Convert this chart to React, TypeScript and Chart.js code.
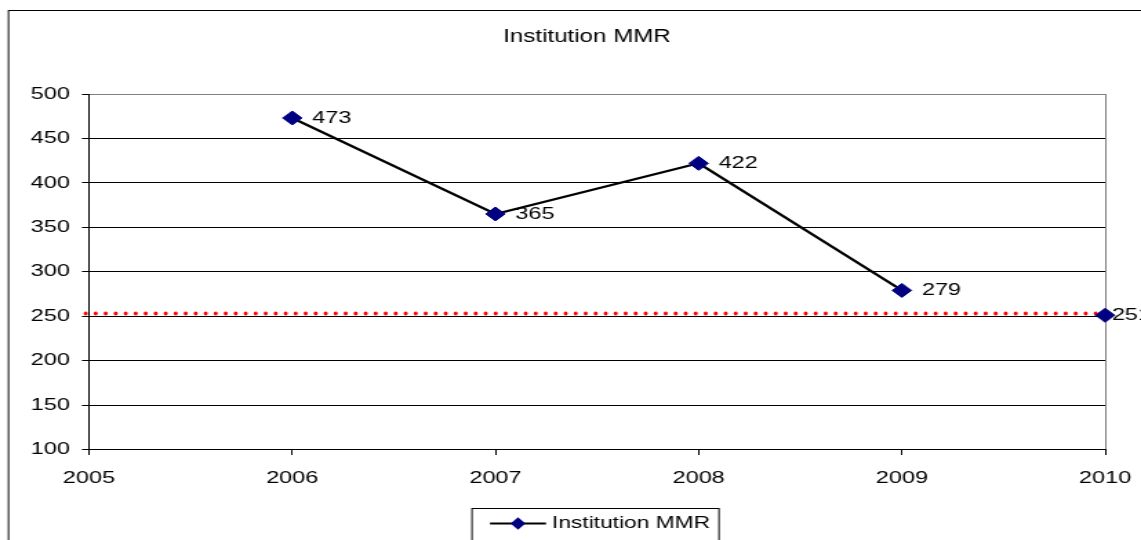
import { useEffect, useRef } from 'react';
import { Chart, registerables } from 'chart.js';

Chart.register(...registerables);

// ---- data ----
const chartTitle = 'Institution MMR';
const seriesName = 'Institution MMR';
const years = [2006, 2007, 2008, 2009, 2010];
const mmrValues = [473, 365, 422, 279, 251];
// the connecting line runs only up to this year; later points stand alone
const lastJoinedYear = 2009;
const targetValue = 253;
const yearRange = [2005, 2010];
const yTickRange = [100, 500];
const yTickStep = 50;

// ---- layout ----
// The canvas is drawn narrow and widened with CSS, which gives the broad lettering.
const CANVAS_W = 827;
const CANVAS_H = 540;
const DISPLAY_W = 1141;
const SX = DISPLAY_W / CANVAS_W;

const FONT = "Arial, 'Liberation Sans', sans-serif";
const NAVY = '#000080';
const GRAY = '#808080';

const drawDiamond = (ctx: CanvasRenderingContext2D, cx: number, cy: number, hw: number, hh: number) => {
  ctx.beginPath();
  ctx.moveTo(cx - hw, cy);
  ctx.lineTo(cx, cy - hh);
  ctx.lineTo(cx + hw, cy);
  ctx.lineTo(cx, cy + hh);
  ctx.closePath();
  ctx.fill();
};

const decorations = {
  id: 'decorations',
  beforeDatasetsDraw(chart: any) {
    // dotted red reference line
    const { ctx, chartArea, scales } = chart;
    const y = scales.y.getPixelForValue(targetValue);
    ctx.save();
    ctx.fillStyle = '#ff0000';
    const step = 10 / SX;
    for (let x = chartArea.left - 2.4; x <= chartArea.right + 0.5; x += step) {
      ctx.beginPath();
      ctx.ellipse(x, y, 2 / SX, 2, 0, 0, Math.PI * 2);
      ctx.fill();
    }
    ctx.restore();
  },
  afterDatasetsDraw(chart: any) {
    // value labels to the right of each marker
    const { ctx } = chart;
    const meta = chart.getDatasetMeta(0);
    ctx.save();
    ctx.font = `17px ${FONT}`;
    ctx.fillStyle = '#000';
    ctx.textBaseline = 'middle';
    ctx.textAlign = 'left';
    const frameRight = 1151 / SX;
    meta.data.forEach((el: any, i: number) => {
      const text = String(mmrValues[i]);
      const w = ctx.measureText(text).width;
      const x = Math.min(el.x + 14.5, frameRight - w);
      ctx.fillText(text, x, el.y);
    });
    ctx.restore();
  },
  afterDraw(chart: any) {
    const { ctx } = chart;
    ctx.save();
    // outer frame
    ctx.strokeStyle = '#000';
    ctx.lineWidth = 1;
    ctx.strokeRect(8.5 / SX, 10.5, CANVAS_W + 20, CANVAS_H + 20);

    // title
    ctx.fillStyle = '#000';
    ctx.font = `17.5px ${FONT}`;
    ctx.textAlign = 'center';
    ctx.textBaseline = 'middle';
    ctx.fillText(chartTitle, 587 / SX, 37);

    // legend
    const boxL = 472 / SX;
    const boxR = 719 / SX;
    const boxT = 508.5;
    ctx.strokeStyle = '#000';
    ctx.lineWidth = 1;
    ctx.strokeRect(boxL, boxT, boxR - boxL, 60);
    const ly = 523.5;
    ctx.strokeStyle = '#000';
    ctx.lineWidth = 2.2;
    ctx.beginPath();
    ctx.moveTo(490 / SX, ly);
    ctx.lineTo(546 / SX, ly);
    ctx.stroke();
    ctx.fillStyle = NAVY;
    drawDiamond(ctx, 518 / SX, ly, 5.4, 6.3);
    ctx.fillStyle = '#000';
    ctx.font = `16.5px ${FONT}`;
    ctx.textAlign = 'left';
    ctx.textBaseline = 'middle';
    ctx.fillText(seriesName, 552 / SX, ly);
    ctx.restore();
  },
};

export default function App() {
  const canvasRef = useRef<HTMLCanvasElement | null>(null);

  useEffect(() => {
    const canvas = canvasRef.current;
    if (!canvas) return;
    const chart = new Chart(canvas, {
      type: 'line',
      data: {
        datasets: [
          {
            label: seriesName,
            data: years.map((yr, i) => ({ x: yr, y: mmrValues[i] })),
            borderColor: '#000',
            borderWidth: 2.2,
            backgroundColor: NAVY,
            pointStyle: 'rectRot',
            pointRadius: 7,
            pointBackgroundColor: NAVY,
            pointBorderColor: NAVY,
            pointBorderWidth: 1,
            tension: 0,
            clip: false as any,
            segment: {
              borderColor: (c: any) =>
                years[c.p1DataIndex] > lastJoinedYear ? 'rgba(0,0,0,0)' : '#000',
            },
          },
        ],
      },
      options: {
        responsive: false,
        maintainAspectRatio: false,
        animation: false,
        devicePixelRatio: 1,
        events: [],
        layout: {
          padding: { left: 5, right: 26, top: 94, bottom: 50.5 },
        },
        plugins: {
          legend: { display: false },
          title: { display: false },
          tooltip: { enabled: false },
        },
        scales: {
          x: {
            type: 'linear',
            min: yearRange[0],
            max: yearRange[1],
            afterFit: (s: any) => {
              s.height = 40;
              s.paddingLeft = 0;
              s.paddingRight = 0;
            },
            ticks: {
              stepSize: 1,
              callback: (v: any) => String(v),
              color: '#000',
              font: { family: FONT, size: 17 },
              padding: 13.5,
              maxRotation: 0,
            },
            grid: {
              color: (c: any) => (c.tick && c.tick.value === yearRange[1] ? GRAY : 'rgba(0,0,0,0)'),
              tickColor: '#000',
              tickLength: 5.5,
              lineWidth: 1,
            },
            border: { display: true, color: '#000', width: 1 },
          },
          y: {
            type: 'linear',
            min: yTickRange[0],
            max: yTickRange[1],
            afterFit: (s: any) => {
              s.width = 59.5;
              s.paddingTop = 0;
              s.paddingBottom = 0;
            },
            ticks: {
              stepSize: yTickStep,
              color: '#000',
              font: { family: FONT, size: 17 },
              padding: 8.7,
            },
            grid: {
              color: (c: any) => (c.tick && c.tick.value === yTickRange[1] ? GRAY : '#000'),
              tickColor: '#000',
              tickLength: 5.1,
              lineWidth: 1,
            },
            border: { display: true, color: '#000', width: 1 },
          },
        },
      },
      plugins: [decorations],
    });
    return () => chart.destroy();
  }, []);

  return (
    <div
      style={{
        position: 'fixed',
        left: 0,
        top: 0,
        width: DISPLAY_W,
        height: CANVAS_H,
        background: '#fff',
        overflow: 'hidden',
      }}
    >
      <canvas
        ref={canvasRef}
        width={CANVAS_W}
        height={CANVAS_H}
        style={{ display: 'block', width: `${DISPLAY_W}px`, height: `${CANVAS_H}px` }}
      />
    </div>
  );
}
